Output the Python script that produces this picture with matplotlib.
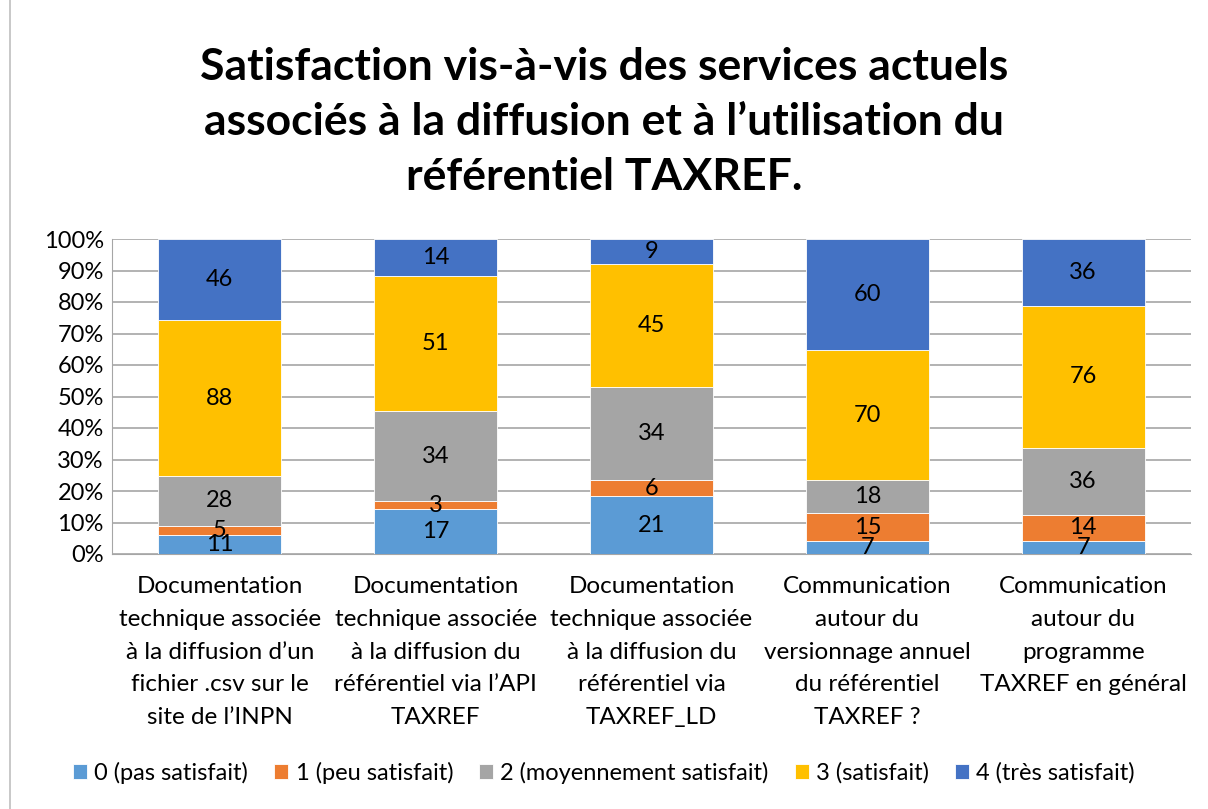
import numpy as np
import matplotlib
matplotlib.use("Agg")
import matplotlib.pyplot as plt
from matplotlib.lines import Line2D

plt.rcParams['font.family'] = ['Lato', 'DejaVu Sans']

categories = [
    "Documentation\ntechnique associée\nà la diffusion d\u2019un\nfichier .csv sur le\nsite de l\u2019INPN",
    "Documentation\ntechnique associée\nà la diffusion du\nréférentiel via l\u2019API\nTAXREF",
    "Documentation\ntechnique associée\nà la diffusion du\nréférentiel via\nTAXREF_LD",
    "Communication\nautour du\nversionnage annuel\ndu référentiel\nTAXREF ?",
    "Communication\nautour du\nprogramme\nTAXREF en général",
]
series_names = ["0 (pas satisfait)", "1 (peu satisfait)", "2 (moyennement satisfait)",
                "3 (satisfait)", "4 (très satisfait)"]
s0 = [11, 17, 21, 7, 7]
s1 = [5, 3, 6, 15, 14]
s2 = [28, 34, 34, 18, 36]
s3 = [88, 51, 45, 70, 76]
s4 = [46, 14, 9, 60, 36]
colors = ["#5B9BD5", "#ED7D31", "#A5A5A5", "#FFC000", "#4472C4"]

counts = np.array([s0, s1, s2, s3, s4], dtype=float)
totals = counts.sum(axis=0)
shares = counts / totals

fig = plt.figure(figsize=(12.08, 8.09), dpi=100)
ax = fig.add_axes([112 / 1208, 1 - 554 / 809, (1191 - 112) / 1208, (554 - 239) / 809])

x = np.arange(len(categories))
bottom = np.zeros(len(categories))
for i in range(len(series_names)):
    ax.bar(x, shares[i], 0.57, bottom=bottom, color=colors[i], label=series_names[i],
           edgecolor="white", linewidth=0.6, zorder=3)
    for j in range(len(categories)):
        ax.text(x[j], bottom[j] + shares[i][j] / 2, f"{int(counts[i][j])}",
                ha="center", va="center", fontsize=17, color="black", zorder=4)
    bottom += shares[i]

ax.set_xlim(-0.5, len(categories) - 0.5)
ax.set_ylim(0, 1)
ax.set_yticks(np.arange(0, 1.01, 0.1))
ax.set_yticklabels([f"{int(round(v * 100))}%" for v in np.arange(0, 1.01, 0.1)], fontsize=17)
ax.set_xticks(x)
ax.set_xticklabels(categories, fontsize=17.5, linespacing=1.69, va="top")
ax.tick_params(axis="y", length=0, pad=6)
ax.tick_params(axis="x", length=0, pad=16)
ax.yaxis.grid(True, color="#A6A6A6", linewidth=1.2, zorder=0)
for side in ["top", "right"]:
    ax.spines[side].set_visible(False)
ax.spines["left"].set_color("#A6A6A6")
ax.spines["bottom"].set_color("#A6A6A6")

fig.suptitle("Satisfaction vis-à-vis des services actuels\nassociés à la diffusion et à l\u2019utilisation du\nréférentiel TAXREF.",
             y=1 - 47 / 809, va="top", fontsize=32, fontweight="bold", linespacing=1.46)

fig.legend(loc="center", bbox_to_anchor=(0.5, 1 - 773 / 809), ncol=5, frameon=False,
           fontsize=17, handlelength=0.6, handleheight=0.6, handletextpad=0.3, columnspacing=1.1)

fig.add_artist(Line2D([10 / 1208, 10 / 1208], [0, 1], color="#BFBFBF", linewidth=1.2))

fig.savefig("out.png", dpi=100)
